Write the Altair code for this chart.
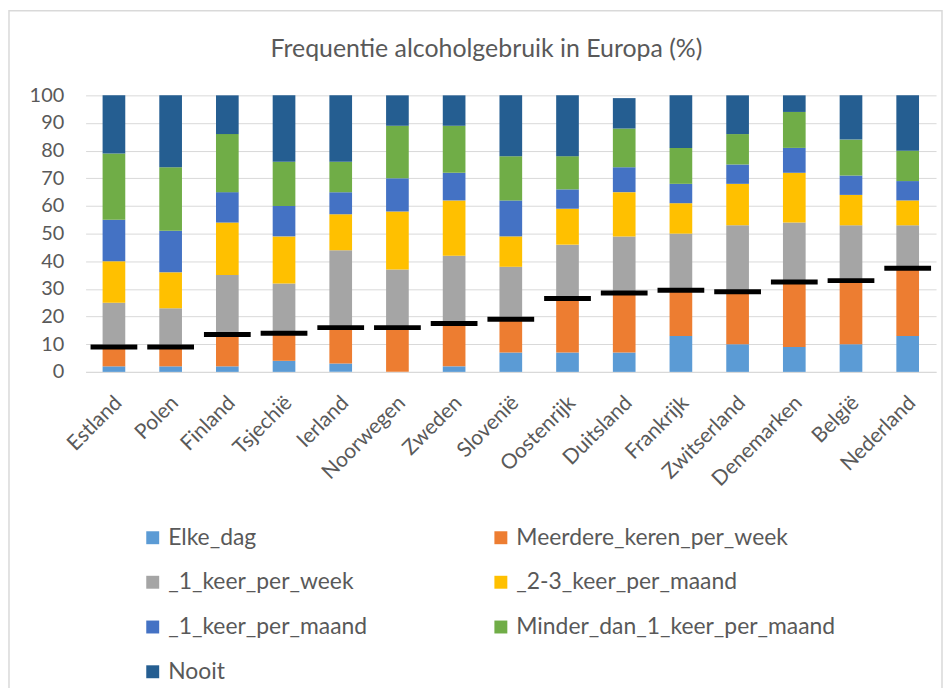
import altair as alt
import pandas as pd

countries = ["Estland", "Polen", "Finland", "Tsjechië", "Ierland", "Noorwegen", "Zweden",
             "Slovenië", "Oostenrijk", "Duitsland", "Frankrijk", "Zwitserland",
             "Denemarken", "België", "Nederland"]
categories = ["Elke_dag", "Meerdere_keren_per_week", "_1_keer_per_week", "_2-3_keer_per_maand",
              "_1_keer_per_maand", "Minder_dan_1_keer_per_maand", "Nooit"]
colors = ["#5B9BD5", "#ED7D31", "#A5A5A5", "#FFC000", "#4472C4", "#70AD47", "#255E91"]
title_text = ["Frequentie alcoholgebruik in Europa (%)"]
y_ticks = [0, 10, 20, 30, 40, 50, 60, 70, 80, 90, 100]

elke_dag = [2, 2, 2, 4, 3, 0, 2, 7, 7, 7, 13, 10, 9, 10, 13]
meerdere_keren_per_week = [7, 7, 11.5, 10, 13, 16, 15.5, 12, 19.5, 21.5, 16.5, 19, 23.5, 23, 24.5]
een_keer_per_week = [16, 14, 21.5, 18, 28, 21, 24.5, 19, 19.5, 20.5, 20.5, 24, 21.5, 20, 15.5]
twee_drie_keer_per_maand = [15, 13, 19, 17, 13, 21, 20, 11, 13, 16, 11, 15, 18, 11, 9]
een_keer_per_maand = [15, 15, 11, 11, 8, 12, 10, 13, 7, 9, 7, 7, 9, 7, 7]
minder_dan_1_keer_per_maand = [24, 23, 21, 16, 11, 19, 17, 16, 12, 14, 13, 11, 13, 13, 11]
nooit = [21, 26, 14, 24, 24, 11, 11, 22, 22, 11, 19, 14, 6, 16, 20]
marker = [9, 9, 13.5, 14, 16, 16, 17.5, 19, 26.5, 28.5, 29.5, 29, 32.5, 33, 37.5]

series = [elke_dag, meerdere_keren_per_week, een_keer_per_week, twee_drie_keer_per_maand,
          een_keer_per_maand, minder_dan_1_keer_per_maand, nooit]

rows = []
for k, (cat, vals) in enumerate(zip(categories, series)):
    for land, v in zip(countries, vals):
        rows.append({"land": land, "reeks": cat, "volg": k, "waarde": v})
df = pd.DataFrame(rows)
df_marker = pd.DataFrame({"land": countries, "waarde": marker})

# legend is filled column by column: reorder so it reads row by row as in the reference
legend_order = [categories[i] for i in (0, 2, 4, 6, 1, 3, 5)]
legend_colors = [colors[i] for i in (0, 2, 4, 6, 1, 3, 5)]

FONT = "Lato"
GREY = "#595959"

xaxis = alt.Axis(title=None, labelAngle=-45, labelFont=FONT, labelFontSize=21,
                 labelColor=GREY, ticks=False, domainColor="#d9d9d9",
                 labelPadding=20, labelOverlap=False, labelOffset=-3)
yaxis = alt.Axis(title=None, values=y_ticks, labelFont=FONT, labelFontSize=20,
                 labelColor=GREY, ticks=False, domain=False, gridColor="#d9d9d9",
                 labelPadding=22, labelOverlap=False)
xscale = alt.Scale(paddingInner=0.6, paddingOuter=0.3)
yscale = alt.Scale(domain=[0, 100], nice=False)

bars = alt.Chart(df).mark_bar().encode(
    x=alt.X("land:N", sort=countries, scale=xscale, axis=xaxis),
    y=alt.Y("waarde:Q", stack="zero", scale=yscale, axis=yaxis),
    color=alt.Color("reeks:N", scale=alt.Scale(domain=legend_order, range=legend_colors),
                    legend=alt.Legend(title=None, orient="none", legendX=56, legendY=433,
                                      columns=2, symbolType="square", symbolSize=169,
                                      symbolStrokeWidth=0, labelFont=FONT, labelFontSize=23,
                                      labelColor=GREY, rowPadding=21, columnPadding=122,
                                      gridAlign="each", labelLimit=500, labelOffset=4)),
    order=alt.Order("volg:Q", sort="ascending"),
)

ticks = alt.Chart(df_marker).mark_tick(color="black", opacity=1, size=47, thickness=5).encode(
    x=alt.X("land:N", sort=countries, scale=xscale, axis=xaxis),
    y=alt.Y("waarde:Q", scale=yscale, axis=yaxis),
)

frame = alt.Chart(alt.Data(values=[{"a": 1}])).mark_rect(
    filled=False, stroke="#d9d9d9", strokeWidth=1.5
).encode(x=alt.value(-77), x2=alt.value(861), y=alt.value(-85), y2=alt.value(640))

title = alt.Chart(pd.DataFrame({"t": title_text})).mark_text(
    font=FONT, fontSize=25, color=GREY, align="center", baseline="middle"
).encode(text="t:N", x=alt.value(403), y=alt.value(-47))

chart = alt.layer(frame, bars, ticks, title).properties(
    width=855, height=278,
    autosize="none",
    padding={"left": 78, "top": 86, "right": 7, "bottom": 316},
).configure_view(stroke=None)

chart.save("out.html", embed_options={"renderer": "svg", "actions": False})
